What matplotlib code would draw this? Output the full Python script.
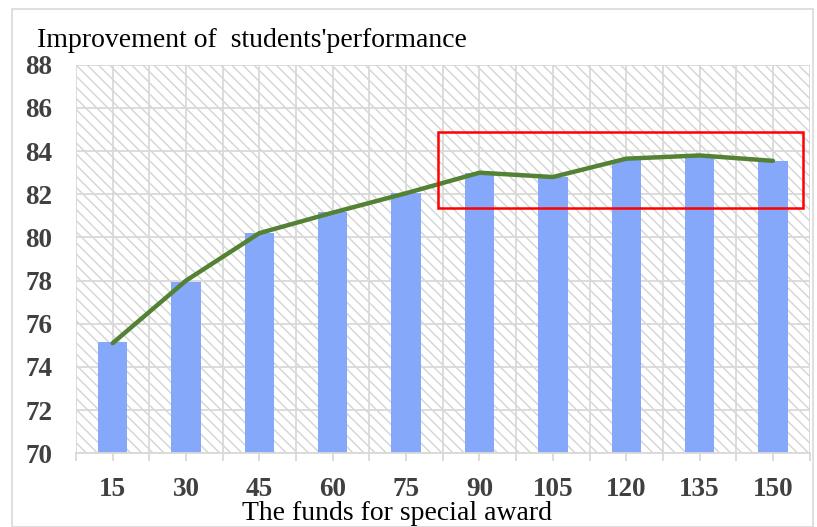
import matplotlib.pyplot as plt
from matplotlib.patches import Rectangle
import numpy as np

plt.rcParams['font.family'] = ['Liberation Serif', 'DejaVu Serif']
plt.rcParams['hatch.linewidth'] = 1.0
plt.rcParams['hatch.color'] = '#d4d4d4'

# data
funds = ['15', '30', '45', '60', '75', '90', '105', '120', '135', '150']
bar_vals = [75.15, 77.95, 80.2, 81.2, 82.05, 83.0, 82.8, 83.6, 83.75, 83.55]
line_vals = [75.1, 78.0, 80.2, 81.15, 82.05, 83.0, 82.8, 83.65, 83.8, 83.55]
yticks = [70, 72, 74, 76, 78, 80, 82, 84, 86, 88]

fig = plt.figure(figsize=(8.17, 5.27), dpi=100)
ax = fig.add_axes([0.093, 0.140, 0.898, 0.737])

x = np.arange(len(funds))
ax.set_xlim(-0.5, len(funds) - 0.5)
ax.set_ylim(70, 88)

# hatched background
ax.add_patch(Rectangle((0, 0), 1, 1, transform=ax.transAxes, facecolor='white',
                       edgecolor='#d4d4d4', hatch='\\\\\\', lw=0, zorder=0))

# grid
for g in np.arange(-0.5, len(funds), 0.5):
    ax.axvline(g, color='#d9d9d9', lw=1.3, zorder=1)
for t in yticks:
    ax.axhline(t, color='#d9d9d9', lw=1.3, zorder=1)

ax.bar(x, [v - 70 for v in bar_vals], bottom=70, width=0.4, color='#86a8fa', zorder=2)
ax.plot(x, line_vals, color='#548235', lw=3.2, zorder=3, solid_capstyle='round')

# highlight box
ax.add_patch(Rectangle((4.43, 81.37), 4.98, 3.53, fill=False, edgecolor='#ff0000',
                       lw=1.8, zorder=4))

ax.set_xticks(x)
ax.set_xticklabels(funds, fontsize=19.5, fontweight='bold', color='#404040')
ax.set_xticks(np.arange(-0.5, len(funds), 1), minor=True)
ax.tick_params(axis='x', which='both', length=6, color='#d9d9d9', width=1.3, pad=11)
ax.set_yticks(yticks)
ax.set_yticklabels([str(t) for t in yticks], fontsize=19.5, fontweight='bold', color='#404040')
ax.tick_params(axis='y', length=0, pad=17)

for s in ['top', 'right', 'left']:
    ax.spines[s].set_visible(False)
ax.spines['bottom'].set_color('#d9d9d9')
ax.spines['bottom'].set_linewidth(1.3)

fig.text(0.045, 0.924, "Improvement of  students'performance", fontsize=20, va='center')
fig.text(0.486, 0.026, 'The funds for special award', fontsize=20, ha='center', va='center')

fig.patches.append(Rectangle((0.015, 0.0), 0.98, 0.983, transform=fig.transFigure,
                             fill=False, edgecolor='#d9d9d9', lw=1.2))

fig.savefig('out.png', dpi=100)
